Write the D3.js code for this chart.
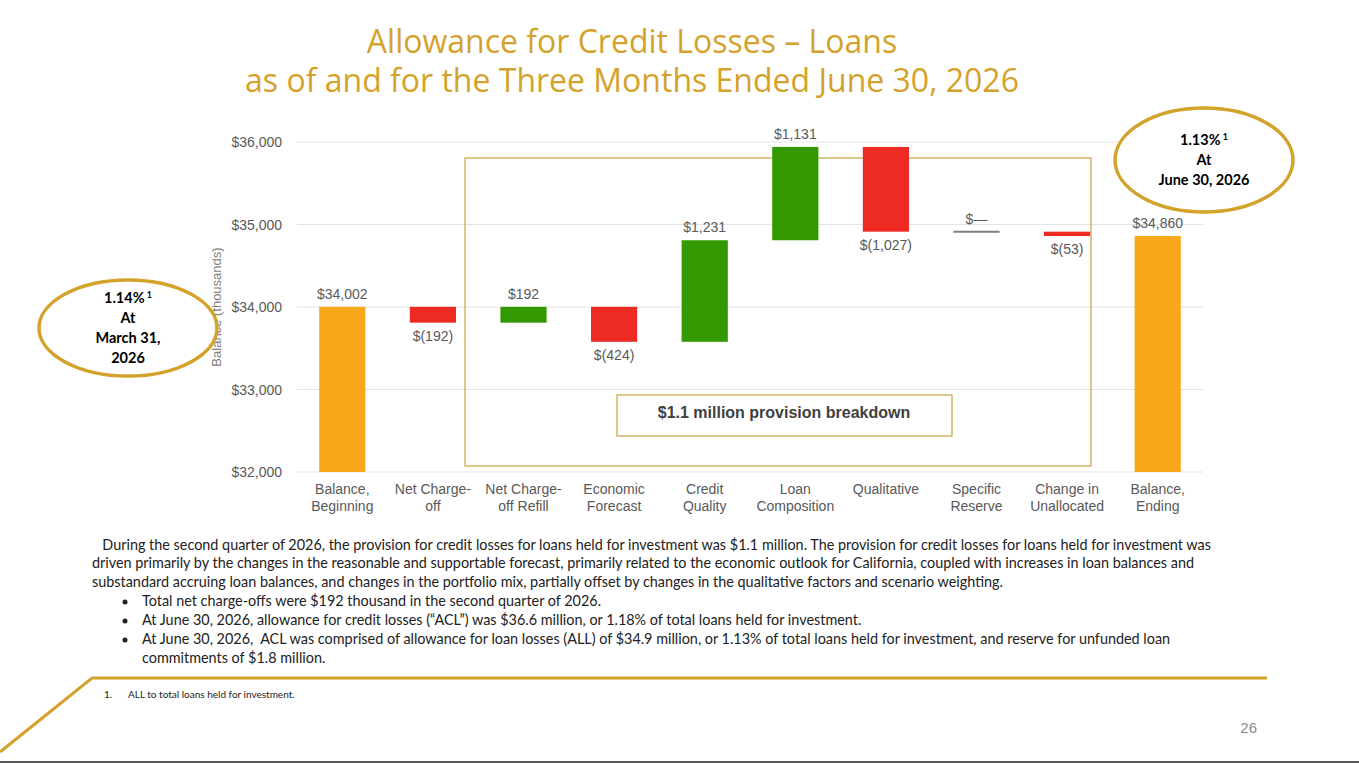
<!DOCTYPE html>
<html><head><meta charset="utf-8">
<script src="https://cdn.jsdelivr.net/npm/d3@7"></script>
<style>body{margin:0;background:#fff}svg{display:block}</style>
</head><body>
<script>
// data
const categories = ["Balance,\nBeginning","Net Charge-\noff","Net Charge-\noff Refill","Economic\nForecast","Credit\nQuality","Loan\nComposition","Qualitative","Specific\nReserve","Change in\nUnallocated","Balance,\nEnding"];
const changes = [34002, -192, 192, -424, 1231, 1131, -1027, 0, -53, 34860];
const valueLabels = ["$34,002","$(192)","$192","$(424)","$1,231","$1,131","$(1,027)","$—","$(53)","$34,860"];
const yTicks = [32000, 33000, 34000, 35000, 36000];

const svg = d3.select("body").append("svg").attr("width", 1359).attr("height", 764);
const gold = "#D4A22B";

// titulo
svg.append("text").attr("x", 632).attr("y", 53).attr("text-anchor", "middle")
  .attr("font-family", "Open Sans").attr("font-size", 32).attr("fill", gold)
  .text("Allowance for Credit Losses – Loans");
svg.append("text").attr("x", 632).attr("y", 92).attr("text-anchor", "middle")
  .attr("font-family", "Open Sans").attr("font-size", 32).attr("fill", gold)
  .text("as of and for the Three Months Ended June 30, 2026");

// escalas
const x = d3.scaleBand().domain(categories).range([297, 1203]).paddingInner(0.49).paddingOuter(0.245);
const y = d3.scaleLinear().domain([32000, 36000]).range([472, 142]);

// waterfall
let run = 0;
const bars = changes.map((v, i) => {
  let lo, hi, type;
  if (i === 0 || i === changes.length - 1) { lo = 32000; hi = v; run = v; type = "total"; }
  else { const s = run; run += v; lo = Math.min(s, run); hi = Math.max(s, run); type = v > 0 ? "up" : v < 0 ? "down" : "zero"; }
  return { cat: categories[i], lo, hi, type, label: valueLabels[i] };
});

// grid
svg.append("g").selectAll("line").data(yTicks).join("line")
  .attr("x1", 297).attr("x2", 1203).attr("y1", d => y(d)).attr("y2", d => y(d))
  .attr("stroke", "#e3e3e3");
svg.append("g").selectAll("text").data(yTicks).join("text")
  .attr("x", 282).attr("y", d => y(d) + 5).attr("text-anchor", "end")
  .attr("font-family", "Liberation Sans").attr("font-size", 14).attr("fill", "#595959")
  .text(d => "$" + d3.format(",")(d));
svg.append("text").attr("transform", "translate(221,307) rotate(-90)").attr("text-anchor", "middle")
  .attr("font-family", "Liberation Sans").attr("font-size", 13).attr("fill", "#7f7f7f")
  .text("Balance (thousands)");

// cajas
svg.append("rect").attr("x", 465).attr("y", 158).attr("width", 626).attr("height", 308)
  .attr("fill", "none").attr("stroke", "#C9A640").attr("stroke-width", 1.2);
svg.append("rect").attr("x", 617).attr("y", 395).attr("width", 335).attr("height", 41)
  .attr("fill", "#fff").attr("stroke", "#C9A640").attr("stroke-width", 1.2);
svg.append("text").attr("x", 784).attr("y", 418).attr("text-anchor", "middle")
  .attr("font-family", "Liberation Sans").attr("font-weight", "bold").attr("font-size", 16).attr("fill", "#404040")
  .text("$1.1 million provision breakdown");

const colors = { total: "#F9A81A", up: "#339900", down: "#EE2A24", zero: "#7f7f7f" };
svg.append("g").selectAll("rect").data(bars.filter(d => d.type !== "zero")).join("rect")
  .attr("x", d => x(d.cat)).attr("width", x.bandwidth())
  .attr("y", d => y(d.hi)).attr("height", d => y(d.lo) - y(d.hi))
  .attr("fill", d => colors[d.type]);
bars.filter(d => d.type === "zero").forEach(d => {
  svg.append("line").attr("x1", x(d.cat)).attr("x2", x(d.cat) + x.bandwidth())
    .attr("y1", y(d.hi)).attr("y2", y(d.hi)).attr("stroke", "#7f7f7f").attr("stroke-width", 2);
});
svg.append("g").selectAll("text").data(bars).join("text")
  .attr("x", d => x(d.cat) + x.bandwidth() / 2)
  .attr("y", d => d.type === "down" ? y(d.lo) + 18 : y(d.hi) - 8)
  .attr("text-anchor", "middle").attr("font-family", "Liberation Sans").attr("font-size", 14).attr("fill", "#595959")
  .text(d => d.label);

// etiquetas eje x
const xl = svg.append("g").selectAll("text").data(categories).join("text")
  .attr("x", d => x(d) + x.bandwidth() / 2).attr("y", 494).attr("text-anchor", "middle")
  .attr("font-family", "Liberation Sans").attr("font-size", 14).attr("fill", "#595959");
xl.selectAll("tspan").data(d => d.split("\n")).join("tspan")
  .attr("x", function () { return this.parentNode.getAttribute("x"); })
  .attr("dy", (d, i) => i ? 17 : 0).text(d => d);

// elipses
function bubble(cx, cy, rx, ry, lines, sup) {
  svg.append("ellipse").attr("cx", cx).attr("cy", cy).attr("rx", rx).attr("ry", ry)
    .attr("fill", "#fff").attr("stroke", gold).attr("stroke-width", 3.5);
  const n = lines.length;
  lines.forEach((l, i) => {
    const t = svg.append("text").attr("x", cx).attr("y", cy - (n - 1) * 10 + i * 20 + 5).attr("text-anchor", "middle")
      .attr("font-family", "Lato").attr("font-weight", "bold").attr("font-size", 14.5).attr("fill", "#000").text(l);
    if (i === 0) t.append("tspan").attr("font-size", 9).attr("dy", -5).text(" " + sup);
  });
}
bubble(128, 328, 89, 48, ["1.14%", "At", "March 31,", "2026"], "1");
bubble(1204, 160, 89, 52, ["1.13%", "At", "June 30, 2026"], "1");

// texto
const para = [
  [95, 550, "  During the second quarter of 2026, the provision for credit losses for loans held for investment was $1.1 million. The provision for credit losses for loans held for investment was"],
  [92, 568, "driven primarily by the changes in the reasonable and supportable forecast, primarily related to the economic outlook for California, coupled with increases in loan balances and"],
  [92, 587, "substandard accruing loan balances, and changes in the portfolio mix, partially offset by changes in the qualitative factors and scenario weighting."]
];
const bullets = [
  [606, "Total net charge-offs were $192 thousand in the second quarter of 2026."],
  [625, "At June 30, 2026, allowance for credit losses (“ACL”) was $36.6 million, or 1.18% of total loans held for investment."],
  [644, "At June 30, 2026,  ACL was comprised of allowance for loan losses (ALL) of $34.9 million, or 1.13% of total loans held for investment, and reserve for unfunded loan"],
  [663, "commitments of $1.8 million."]
];
const fs = 14.4;
para.forEach(p => svg.append("text").attr("x", p[0]).attr("y", p[1]).attr("font-family", "Lato").attr("font-size", fs).attr("fill", "#222").attr("xml:space", "preserve").text(p[2]));
bullets.forEach((b, i) => {
  if (i < 3) svg.append("circle").attr("cx", 125).attr("cy", b[0] - 4).attr("r", 2.5).attr("fill", "#222");
  svg.append("text").attr("x", 142).attr("y", b[0]).attr("font-family", "Lato").attr("font-size", fs).attr("fill", "#222").attr("xml:space", "preserve").text(b[1]);
});

// pie de pagina
svg.append("polyline").attr("points", "0,752 92,678 1267,678").attr("fill", "none").attr("stroke", gold).attr("stroke-width", 3);
svg.append("line").attr("x1", 0).attr("x2", 1359).attr("y1", 762).attr("y2", 762).attr("stroke", "#222").attr("stroke-width", 1.5);
svg.append("text").attr("x", 104).attr("y", 698).attr("font-family", "Lato").attr("font-size", 10).attr("fill", "#222").text("1.");
svg.append("text").attr("x", 128).attr("y", 698).attr("font-family", "Lato").attr("font-size", 10).attr("fill", "#222").text("ALL to total loans held for investment.");
svg.append("text").attr("x", 1257).attr("y", 733).attr("text-anchor", "end").attr("font-family", "Liberation Sans").attr("font-size", 15).attr("fill", "#8c8c8c").text("26");
</script>
</body></html>
